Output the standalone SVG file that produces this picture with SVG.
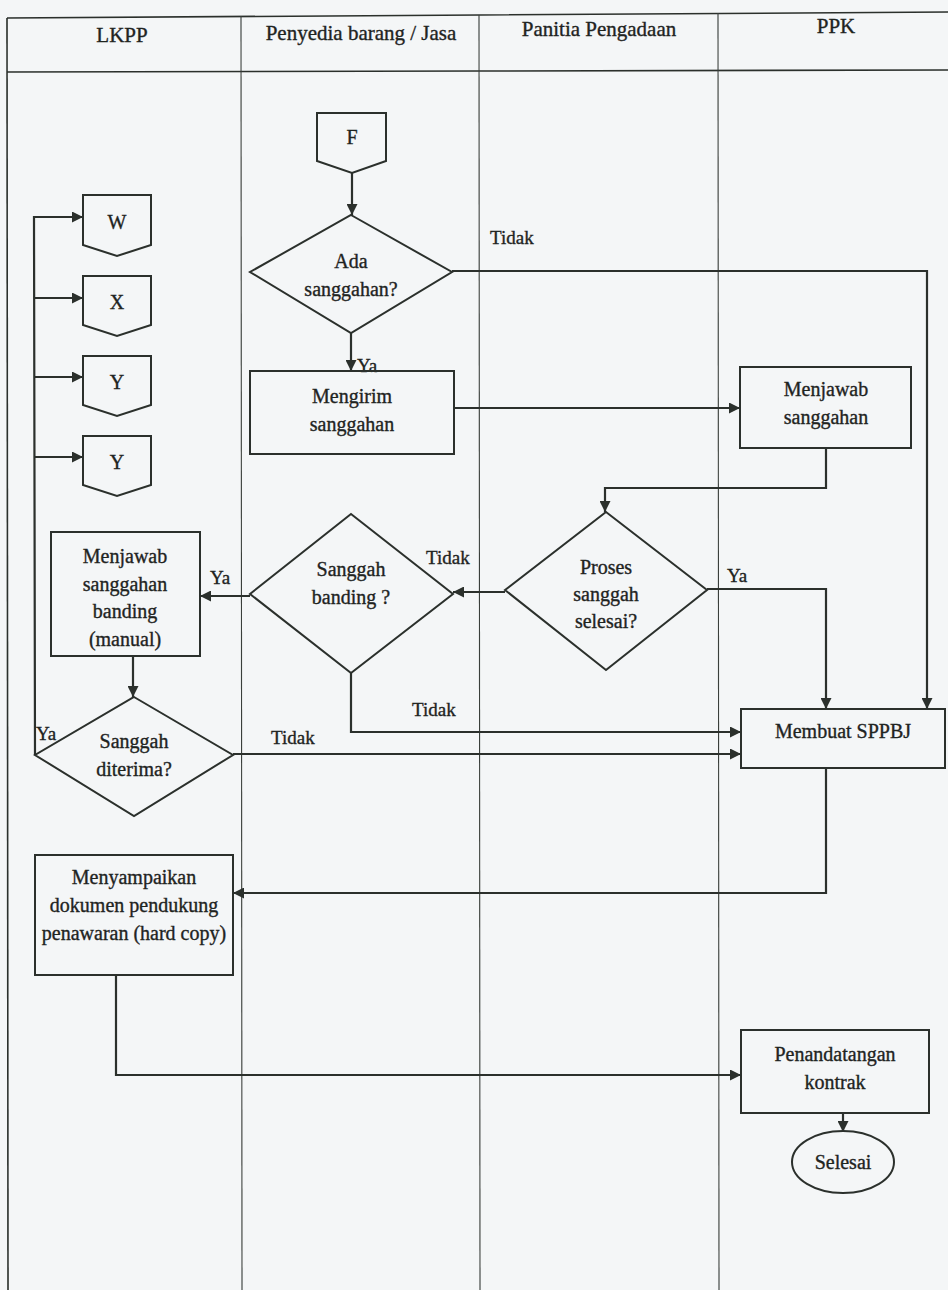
<svg xmlns="http://www.w3.org/2000/svg" width="948" height="1290" viewBox="0 0 948 1290">
<style>
.frame{stroke:#2b302c;stroke-width:1.6;fill:none}
.col{stroke:#3a3f3b;stroke-width:1.1;fill:none}
.node{stroke:#2b302c;stroke-width:2;fill:none}
.conn{stroke:#2b302c;stroke-width:2.2;fill:none}
text{font-family:"Liberation Serif","Times New Roman",serif;fill:#1f241f;stroke:#1f241f;stroke-width:0.35;text-anchor:middle}
.hd{font-size:21px}
.t{font-size:20px}
.lbl{font-size:19px;text-anchor:start}
</style>
<defs>
<marker id="ah" viewBox="0 0 10 10" refX="10" refY="5" markerWidth="6" markerHeight="5" orient="auto" markerUnits="strokeWidth">
<path d="M0,0 L10,5 L0,10 z" fill="#2b302c"/>
</marker>
</defs>
<rect x="0" y="0" width="948" height="1290" fill="#f4f6f7"/>
<g id="lanes">
<path class="frame" d="M7,18 L480,15 L948,12"/>
<path class="frame" d="M7,72 L480,71 L948,70"/>
<line class="frame" x1="7" y1="18" x2="8" y2="1290"/>
<line class="col" x1="241" y1="16" x2="242" y2="1290"/>
<line class="col" x1="479" y1="15" x2="480" y2="1290"/>
<line class="col" x1="718" y1="13" x2="719" y2="1290"/>
<text class="hd" x="122" y="42">LKPP</text>
<text class="hd" x="361" y="40">Penyedia barang / Jasa</text>
<text class="hd" x="599" y="36">Panitia Pengadaan</text>
<text class="hd" x="836" y="33">PPK</text>
</g>
<g id="connectors">
<line class="conn" x1="352" y1="173" x2="352" y2="215" marker-end="url(#ah)"/>
<line class="conn" x1="351" y1="333" x2="351" y2="371" marker-end="url(#ah)"/>
<polyline class="conn" points="452,271 927,271 927,709" marker-end="url(#ah)"/>
<line class="conn" x1="454" y1="408" x2="740" y2="408" marker-end="url(#ah)"/>
<polyline class="conn" points="826,448 826,488 605,488 605,512" marker-end="url(#ah)"/>
<line class="conn" x1="505" y1="592" x2="453" y2="592" marker-end="url(#ah)"/>
<polyline class="conn" points="707,589 826,589 826,709" marker-end="url(#ah)"/>
<line class="conn" x1="250" y1="596" x2="200" y2="596" marker-end="url(#ah)"/>
<line class="conn" x1="133" y1="656" x2="133" y2="697" marker-end="url(#ah)"/>
<polyline class="conn" points="351,673 351,732 741,732" marker-end="url(#ah)"/>
<line class="conn" x1="233" y1="754" x2="741" y2="754" marker-end="url(#ah)"/>
<polyline class="conn" points="35,755 34,217 83,217" marker-end="url(#ah)"/>
<line class="conn" x1="34" y1="298" x2="83" y2="298" marker-end="url(#ah)"/>
<line class="conn" x1="34" y1="377" x2="83" y2="377" marker-end="url(#ah)"/>
<line class="conn" x1="34" y1="457" x2="83" y2="457" marker-end="url(#ah)"/>
<polyline class="conn" points="826,768 826,893 233,893" marker-end="url(#ah)"/>
<polyline class="conn" points="116,975 116,1075 741,1075" marker-end="url(#ah)"/>
<line class="conn" x1="843" y1="1113" x2="843" y2="1132" marker-end="url(#ah)"/>
<text class="lbl" x="490" y="244">Tidak</text>
<text class="lbl" x="357" y="372">Ya</text>
<text class="lbl" x="727" y="582">Ya</text>
<text class="lbl" x="426" y="564">Tidak</text>
<text class="lbl" x="210" y="584">Ya</text>
<text class="lbl" x="412" y="716">Tidak</text>
<text class="lbl" x="271" y="744">Tidak</text>
<text class="lbl" x="36" y="740">Ya</text>
</g>
<g id="F">
<path class="node" d="M317,113 H386 V161 L352,173 L317,161 Z"/>
<text class="t" x="352" y="144">F</text>
</g>
<g id="W">
<path class="node" d="M83,195 H151 V245 L117,256 L83,245 Z"/>
<text class="t" x="117" y="229">W</text>
</g>
<g id="X">
<path class="node" d="M83,276 H151 V325 L117,336 L83,325 Z"/>
<text class="t" x="117" y="309">X</text>
</g>
<g id="Y1">
<path class="node" d="M83,356 H151 V405 L117,416 L83,405 Z"/>
<text class="t" x="117" y="389">Y</text>
</g>
<g id="Y2">
<path class="node" d="M83,436 H151 V485 L117,496 L83,485 Z"/>
<text class="t" x="117" y="469">Y</text>
</g>
<g id="ada-sanggahan">
<path class="node" d="M351,215 L452,272 L351,333 L250,272 Z"/>
<text class="t" x="351" y="268">Ada</text>
<text class="t" x="351" y="296">sanggahan?</text>
</g>
<g id="mengirim">
<rect class="node" x="250" y="371" width="204" height="83"/>
<text class="t" x="352" y="403">Mengirim</text>
<text class="t" x="352" y="431">sanggahan</text>
</g>
<g id="menjawab">
<rect class="node" x="740" y="367" width="171" height="81"/>
<text class="t" x="826" y="396">Menjawab</text>
<text class="t" x="826" y="424">sanggahan</text>
</g>
<g id="proses">
<path class="node" d="M606,512 L707,590 L606,670 L505,590 Z"/>
<text class="t" x="606" y="574">Proses</text>
<text class="t" x="606" y="601">sanggah</text>
<text class="t" x="606" y="628">selesai?</text>
</g>
<g id="banding">
<path class="node" d="M351,514 L453,594 L351,673 L250,594 Z"/>
<text class="t" x="351" y="576">Sanggah</text>
<text class="t" x="351" y="604">banding ?</text>
</g>
<g id="menjawab-banding">
<rect class="node" x="51" y="532" width="149" height="124"/>
<text class="t" x="125" y="563">Menjawab</text>
<text class="t" x="125" y="591">sanggahan</text>
<text class="t" x="125" y="618">banding</text>
<text class="t" x="125" y="646">(manual)</text>
</g>
<g id="diterima">
<path class="node" d="M134,697 L233,755 L134,816 L35,755 Z"/>
<text class="t" x="134" y="748">Sanggah</text>
<text class="t" x="134" y="776">diterima?</text>
</g>
<g id="sppbj">
<rect class="node" x="741" y="709" width="204" height="59"/>
<text class="t" x="843" y="738">Membuat SPPBJ</text>
</g>
<g id="menyampaikan">
<rect class="node" x="35" y="855" width="198" height="120"/>
<text class="t" x="134" y="884">Menyampaikan</text>
<text class="t" x="134" y="912">dokumen pendukung</text>
<text class="t" x="134" y="940">penawaran (hard copy)</text>
</g>
<g id="penandatangan">
<rect class="node" x="741" y="1030" width="188" height="83"/>
<text class="t" x="835" y="1061">Penandatangan</text>
<text class="t" x="835" y="1089">kontrak</text>
</g>
<g id="selesai">
<ellipse class="node" cx="843" cy="1162" rx="51" ry="31"/>
<text class="t" x="843" y="1169">Selesai</text>
</g>
</svg>
